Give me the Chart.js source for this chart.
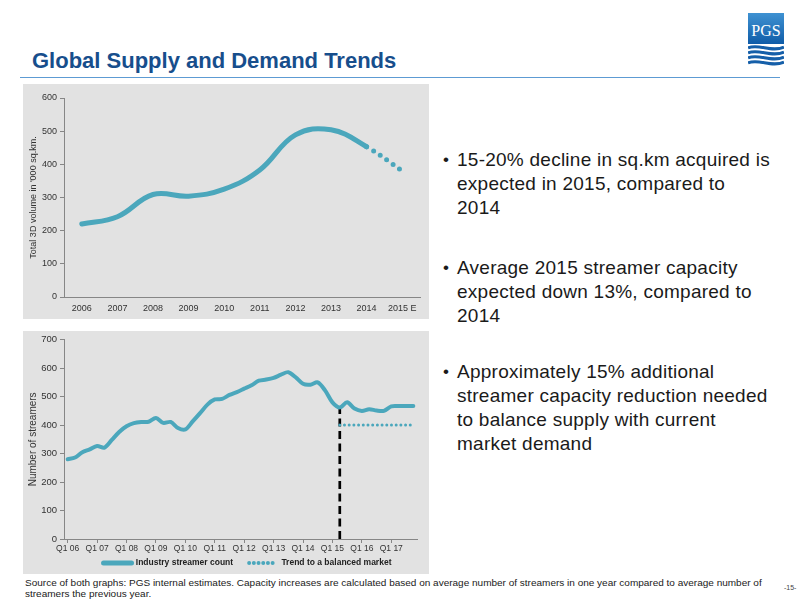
<!DOCTYPE html>
<html>
<head>
<meta charset="utf-8">
<script src="https://cdn.jsdelivr.net/npm/chart.js@4.4.0/dist/chart.umd.min.js"></script>
<style>
  body { margin:0; width:800px; height:600px; position:relative; background:#fff; font-family:"Liberation Sans", Arial, sans-serif; overflow:hidden; }
  #title { position:absolute; left:32px; top:48px; font-size:22px; font-weight:bold; color:#174e8c; white-space:nowrap; }
  #rule { position:absolute; left:20px; top:77px; width:760px; height:1px; background:#5d9bd3; }
  .panel { position:absolute; left:23px; width:406px; background:#e2e2e2; }
  #p1 { top:84px; height:235px; }
  #p2 { top:331px; height:243px; }
  .bullet { position:absolute; left:443px; font-size:19px; letter-spacing:0.25px; line-height:24px; color:#1a1a1a; white-space:nowrap; }
  .bullet .dot { position:absolute; left:0; top:0; font-size:17px; }
  .bullet .txt { margin-left:14px; }
  #foot { position:absolute; left:25px; top:577px; font-size:9.5px; line-height:11px; color:#1a1a1a; white-space:nowrap; transform-origin:0 0; }
  #foot span { display:inline-block; }
  #pg { position:absolute; left:784px; top:584px; font-size:7px; color:#444; }
  #logo { position:absolute; left:748px; top:13px; }
</style>
</head>
<body>
<div id="title">Global Supply and Demand Trends</div>
<div id="rule"></div>
<svg id="logo" width="36" height="54" viewBox="0 0 36 54">
  <defs>
    <linearGradient id="lg" x1="0" y1="0" x2="0" y2="1">
      <stop offset="0" stop-color="#3f92d2"/>
      <stop offset="1" stop-color="#0f5ca8"/>
    </linearGradient>
  </defs>
  <rect x="0" y="0" width="36" height="31" fill="url(#lg)"/>
  <text x="18" y="23" text-anchor="middle" font-family="'Liberation Serif', serif" font-size="16" fill="#fff">PGS</text>
  <path d="M0,35 C10,30 24,40 36,34" stroke="#155fa9" stroke-width="3" fill="none"/>
  <path d="M0,40 C10,35 24,45 36,39" stroke="#155fa9" stroke-width="3" fill="none"/>
  <path d="M0,45 C10,40 24,50 36,44" stroke="#155fa9" stroke-width="3" fill="none"/>
  <path d="M0,50 C10,45 24,55 36,49" stroke="#155fa9" stroke-width="3" fill="none"/>
</svg>

<div class="panel" id="p1"><canvas id="volumeChart"></canvas></div>
<div class="panel" id="p2"><canvas id="streamerChart"></canvas></div>

<div class="bullet" style="top:148px"><span class="dot">•</span><div class="txt">15-20% decline in sq.km acquired is<br>expected in 2015, compared to<br>2014</div></div>
<div class="bullet" style="top:256px"><span class="dot">•</span><div class="txt">Average 2015 streamer capacity<br>expected down 13%, compared to<br>2014</div></div>
<div class="bullet" style="top:360px"><span class="dot">•</span><div class="txt">Approximately 15% additional<br>streamer capacity reduction needed<br>to balance supply with current<br>market demand</div></div>

<div id="foot"><span id="footLine">Source of both graphs: PGS internal estimates. Capacity increases are calculated based on average number of streamers in one year compared to average number of</span><br>streamers the previous year.</div>
<div id="pg">-15-</div>

<script>
// Top chart data
const years = ['2006', '2007', '2008', '2009', '2010', '2011', '2012', '2013', '2014', '2015 E'];
const volume = [220, 242, 309, 304, 325, 383, 489, 504, 453, 380];

// Bottom chart data
const quarters = [
  'Q1 06', 'Q2 06', 'Q3 06', 'Q4 06', 'Q1 07', 'Q2 07', 'Q3 07', 'Q4 07',
  'Q1 08', 'Q2 08', 'Q3 08', 'Q4 08', 'Q1 09', 'Q2 09', 'Q3 09', 'Q4 09',
  'Q1 10', 'Q2 10', 'Q3 10', 'Q4 10', 'Q1 11', 'Q2 11', 'Q3 11', 'Q4 11',
  'Q1 12', 'Q2 12', 'Q3 12', 'Q4 12', 'Q1 13', 'Q2 13', 'Q3 13', 'Q4 13',
  'Q1 14', 'Q2 14', 'Q3 14', 'Q4 14', 'Q1 15', 'Q2 15', 'Q3 15', 'Q4 15',
  'Q1 16', 'Q2 16', 'Q3 16', 'Q4 16', 'Q1 17', 'Q2 17', 'Q3 17', 'Q4 17'
];
const streamers = [
  280, 286, 305, 315, 327, 321, 348, 376,
  396, 407, 411, 412, 425, 408, 411, 390,
  385, 413, 442, 472, 490, 492, 506, 516,
  528, 540, 556, 560, 566, 577, 586, 568,
  545, 542, 550, 522, 480, 462, 480, 458,
  450, 456, 451, 450, 466, 467, 467, 467
];
const trendStart = 'Q2 15';
const trendEnd = 'Q4 17';
const trendLevel = 400;
const dividerAt = 'Q2 15';
const dividerTop = 463;

const teal = '#4ba7bc';
const axisGrey = '#868686';
const tickText = '#333333';

Chart.defaults.font.family = "'Liberation Sans', Arial, sans-serif";
Chart.defaults.animation = false;

document.addEventListener('DOMContentLoaded', function() {
    // squeeze the footnote to the slide width
    const footLine = document.getElementById('footLine');
    const w = footLine.offsetWidth;
    if (w > 0) {
        document.getElementById('foot').style.transform = 'scaleX(' + (737 / w) + ')';
    }

    new Chart(document.getElementById('volumeChart'), {
        type: 'line',
        data: {
            labels: years,
            datasets: [{
                label: 'Total 3D volume',
                data: volume,
                borderColor: teal,
                borderWidth: 5,
                borderCapStyle: 'round',
                borderJoinStyle: 'round',
                tension: 0.4,
                pointRadius: 0,
                fill: false,
                segment: {
                    borderDash: c => c.p1DataIndex === years.length - 1 ? [0, 8] : undefined
                }
            }]
        },
        options: {
            responsive: true,
            maintainAspectRatio: false,
            layout: { padding: { top: 14, right: 9, left: 0, bottom: 0 } },
            plugins: { legend: { display: false }, tooltip: { enabled: false } },
            scales: {
                x: {
                    offset: true,
                    grid: { display: false, drawTicks: false },
                    border: { color: axisGrey },
                    ticks: { color: tickText, font: { size: 9 }, padding: 6, maxRotation: 0 },
                    afterFit: s => { s.height = 22; }
                },
                y: {
                    min: 0,
                    max: 600,
                    ticks: { stepSize: 100, color: tickText, font: { size: 9 }, padding: 3 },
                    grid: { drawOnChartArea: false, tickLength: 4, color: axisGrey },
                    border: { color: axisGrey },
                    title: {
                        display: true,
                        text: "Total 3D volume in '000 sq.km.",
                        color: tickText,
                        font: { size: 9 },
                        padding: { top: 5, bottom: 0 }
                    },
                    afterFit: s => { s.width = 41; }
                }
            }
        }
    });

    // put the legend a little right of the plot centre, as on the slide
    const legendNudge = {
        id: 'legendNudge',
        afterLayout(chart) {
            const lg = chart.legend;
            const a = chart.chartArea;
            const shift = (a.left + a.right) / 2 + 7 - (lg.left + lg.right) / 2;
            lg.left += shift;
            lg.right += shift;
        }
    };

    new Chart(document.getElementById('streamerChart'), {
        type: 'line',
        data: {
            labels: quarters,
            datasets: [{
                label: 'Industry streamer count',
                data: streamers,
                borderColor: teal,
                borderWidth: 4,
                borderCapStyle: 'round',
                borderJoinStyle: 'round',
                tension: 0.3,
                pointRadius: 0,
                fill: false
            }, {
                label: 'Trend to a balanced market',
                data: [{ x: trendStart, y: trendLevel }, { x: trendEnd, y: trendLevel }],
                borderColor: teal,
                borderWidth: 3,
                borderCapStyle: 'round',
                borderDash: [0, 4.7],
                pointRadius: 0,
                fill: false
            }, {
                label: 'divider',
                data: [{ x: dividerAt, y: 0 }, { x: dividerAt, y: dividerTop }],
                borderColor: '#000000',
                borderWidth: 2.7,
                borderDash: [8, 4.5],
                pointRadius: 0,
                fill: false
            }]
        },
        options: {
            responsive: true,
            maintainAspectRatio: false,
            layout: { padding: { top: 8, right: 12, left: 0, bottom: -3.25 } },
            plugins: {
                tooltip: { enabled: false },
                legend: {
                    position: 'bottom',
                    labels: {
                        usePointStyle: true,
                        pointStyle: 'line',
                        pointStyleWidth: 28,
                        padding: 3.3,
                        color: '#222222',
                        font: { size: 8.5, weight: 'bold' },
                        generateLabels: chart => {
                            const items = Chart.defaults.plugins.legend.labels.generateLabels(chart)
                                .filter(it => it.datasetIndex < 2);
                            items.forEach((it, k) => {
                                // sample line takes the dataset's own stroke
                                const ds = chart.data.datasets[it.datasetIndex];
                                it.lineDash = ds.borderDash || [];
                                it.lineWidth = ds.borderWidth + 1;
                                it.lineCap = ds.borderCapStyle || 'butt';
                                it.strokeStyle = ds.borderColor;
                                // keep some air between the two entries
                                if (k < items.length - 1) it.text += '\u2003\u2002';
                            });
                            return items;
                        }
                    }
                }
            },
            scales: {
                x: {
                    offset: true,
                    grid: {
                        drawOnChartArea: false,
                        tickLength: 4,
                        color: c => (quarters[c.index] || '').startsWith('Q1') ? axisGrey : 'rgba(0,0,0,0)'
                    },
                    border: { color: axisGrey },
                    ticks: {
                        autoSkip: false,
                        maxRotation: 0,
                        color: tickText,
                        font: { size: 8.5 },
                        padding: 1,
                        callback: (value, index) => quarters[index].startsWith('Q1') ? quarters[index] : ''
                    },
                    afterFit: s => { s.height = 16.45; }
                },
                y: {
                    min: 0,
                    max: 700,
                    ticks: { stepSize: 100, color: tickText, font: { size: 9.5 }, padding: 3 },
                    grid: { drawOnChartArea: false, tickLength: 4, color: axisGrey },
                    border: { color: axisGrey },
                    title: {
                        display: true,
                        text: 'Number of streamers',
                        color: tickText,
                        font: { size: 10 },
                        padding: { top: 4, bottom: 0 }
                    },
                    afterFit: s => { s.width = 41; }
                }
            }
        },
        plugins: [legendNudge]
    });
});
</script>
</body>
</html>
